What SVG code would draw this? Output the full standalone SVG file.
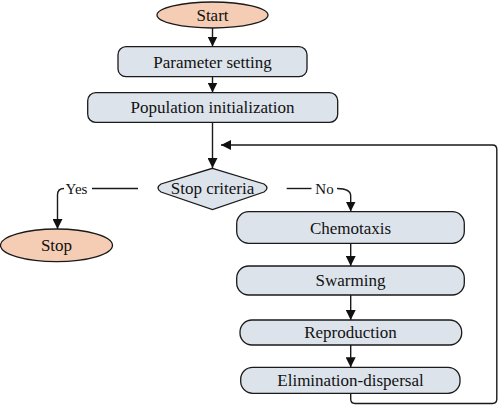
<svg xmlns="http://www.w3.org/2000/svg" width="500" height="407" viewBox="0 0 500 407">
<defs>
<style>
.term{fill:#f5cdb5;stroke:#1a1a1a;stroke-width:1.3}
.box{fill:#dce3eb;stroke:#1a1a1a;stroke-width:1.3}
.t{font-family:"Liberation Serif","Times New Roman",serif;font-size:17px;fill:#111;text-anchor:middle}
.lbl{font-family:"Liberation Serif","Times New Roman",serif;font-size:15px;fill:#111;text-anchor:middle}
.c{fill:none;stroke:#1a1a1a;stroke-width:1.4}
</style>
<marker id="ah" markerUnits="userSpaceOnUse" markerWidth="10" markerHeight="10" viewBox="0 0 10 10" refX="10" refY="5" orient="auto">
<path d="M0,0 L10,5 L0,10 z" fill="#111"/>
</marker>
</defs>
<rect width="500" height="407" fill="#fff"/>
<g id="connectors">
<line class="c" x1="212.5" y1="28" x2="212.5" y2="46.5" marker-end="url(#ah)"/>
<line class="c" x1="212.5" y1="76.7" x2="212.5" y2="92.5" marker-end="url(#ah)"/>
<line class="c" x1="212.5" y1="122.3" x2="212.5" y2="168" marker-end="url(#ah)"/>
<path class="c" d="M138,188.5 H92"/>
<text class="lbl" x="76.5" y="193.5">Yes</text>
<path class="c" d="M64,188.5 Q57.5,188.5 57.5,195 V229" marker-end="url(#ah)"/>
<path class="c" d="M286.7,188.5 H311.5"/>
<text class="lbl" x="324.5" y="193.5">No</text>
<path class="c" d="M337,188.5 Q350.7,188.5 350.7,196 V211.5" marker-end="url(#ah)"/>
<line class="c" x1="350.7" y1="243.3" x2="350.7" y2="266" marker-end="url(#ah)"/>
<line class="c" x1="350.7" y1="295" x2="350.7" y2="320" marker-end="url(#ah)"/>
<line class="c" x1="350.7" y1="345" x2="350.7" y2="367.3" marker-end="url(#ah)"/>
<path class="c" d="M350.7,393.3 V399 Q350.7,403.5 355,403.5 H492.5 Q496.8,403.5 496.8,399 V149.5 Q496.8,145 492.5,145 H221" marker-end="url(#ah)"/>
</g>
<g id="start">
<ellipse class="term" cx="212.5" cy="15" rx="55.5" ry="13"/>
<text class="t" x="212.5" y="21">Start</text>
</g>
<g id="param">
<rect class="box" x="118" y="46.7" width="189" height="30" rx="8"/>
<text class="t" x="212.5" y="67.5">Parameter setting</text>
</g>
<g id="pop">
<rect class="box" x="87.7" y="92.7" width="250" height="29.6" rx="8"/>
<text class="t" x="212.5" y="113">Population initialization</text>
</g>
<g id="stopcrit">
<path class="box" d="M212.5,168.3 L264,184 Q270,188 264,192 L212.5,209.5 L161,192 Q155,188 161,184 Z"/>
<text class="t" x="212.5" y="194">Stop criteria</text>
</g>
<g id="stop">
<ellipse class="term" cx="56.5" cy="245.3" rx="56" ry="16.3"/>
<text class="t" x="56.5" y="251">Stop</text>
</g>
<g id="chemo">
<rect class="box" x="236.7" y="211.7" width="227.6" height="31.6" rx="12"/>
<text class="t" x="350.5" y="233.5">Chemotaxis</text>
</g>
<g id="swarm">
<rect class="box" x="236.7" y="266" width="227.6" height="29" rx="12"/>
<text class="t" x="350.5" y="286">Swarming</text>
</g>
<g id="repro">
<rect class="box" x="240" y="320" width="221.7" height="25" rx="12"/>
<text class="t" x="350.5" y="338">Reproduction</text>
</g>
<g id="elim">
<rect class="box" x="240.7" y="367.3" width="219.3" height="26" rx="12"/>
<text class="t" x="350.5" y="386">Elimination-dispersal</text>
</g>
</svg>
